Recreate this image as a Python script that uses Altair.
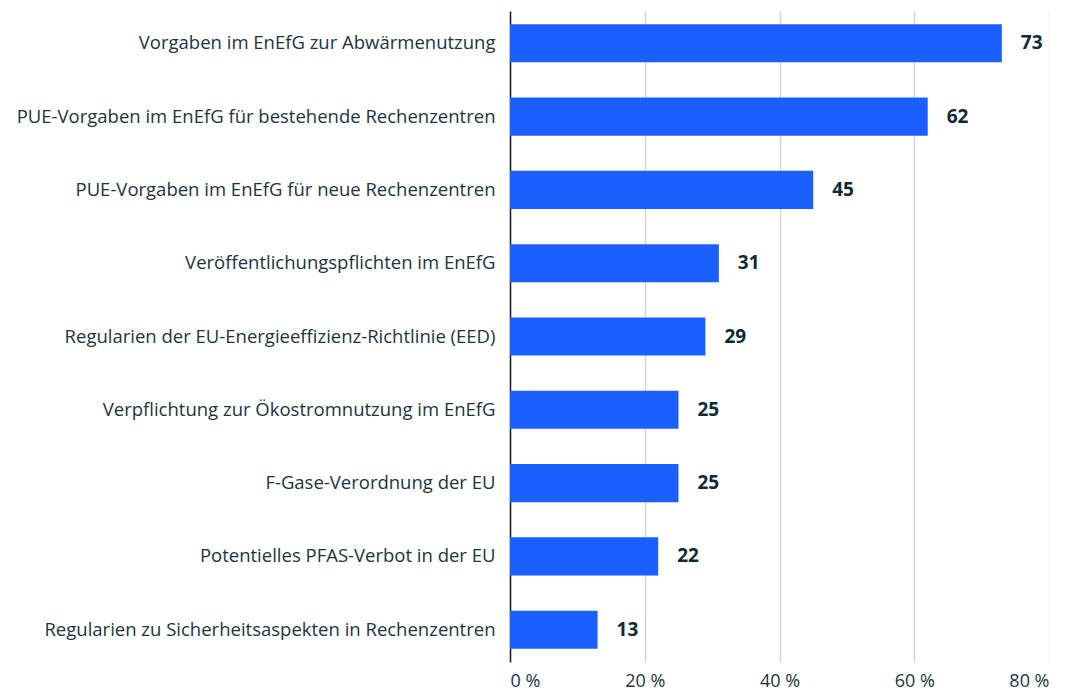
import altair as alt
import pandas as pd

categories = [
    "Vorgaben im EnEfG zur Abwärmenutzung",
    "PUE-Vorgaben im EnEfG für bestehende Rechenzentren",
    "PUE-Vorgaben im EnEfG für neue Rechenzentren",
    "Veröffentlichungspflichten im EnEfG",
    "Regularien der EU-Energieeffizienz-Richtlinie (EED)",
    "Verpflichtung zur Ökostromnutzung im EnEfG",
    "F-Gase-Verordnung der EU",
    "Potentielles PFAS-Verbot in der EU",
    "Regularien zu Sicherheitsaspekten in Rechenzentren",
]
values = [73, 62, 45, 31, 29, 25, 25, 22, 13]

df = pd.DataFrame({"cat": categories, "val": values})

FONT = "Open Sans"
TXT = "#1d3441"

y_enc = alt.Y(
    "cat:N",
    sort=categories,
    title=None,
    scale=alt.Scale(paddingInner=0.48, paddingOuter=0.18),
    axis=alt.Axis(
        domain=True, domainColor="#14232b", domainWidth=1.5,
        ticks=False, labelPadding=15, labelFontSize=18.5, labelFont=FONT,
        labelColor=TXT, labelLimit=700, grid=False,
    ),
)
x_enc = alt.X(
    "val:Q",
    title=None,
    scale=alt.Scale(domain=[0, 80], nice=False),
    axis=alt.Axis(
        values=[0, 20, 40, 60, 80], labelExpr="datum.value + ' %'",
        domain=False, ticks=False, grid=True, gridColor="#d4d4d4", gridWidth=1.5,
        labelPadding=10, labelFontSize=18, labelFont=FONT, labelColor=TXT,
    ),
)

bars = alt.Chart(df).mark_bar(color="#1c5fff").encode(x=x_enc, y=y_enc)
labels = alt.Chart(df).mark_text(
    align="left", baseline="middle", dx=19, font=FONT, fontSize=19,
    fontWeight="bold", color="#0f2a36",
).encode(x="val:Q", y=alt.Y("cat:N", sort=categories), text="val:Q")

chart = (bars + labels).properties(
    width=539, height=651,
    padding={"left": 8, "top": 3, "right": 0, "bottom": 0},
).configure_view(stroke=None)
chart.save("out.html", embed_options={"renderer": "svg", "actions": False})
